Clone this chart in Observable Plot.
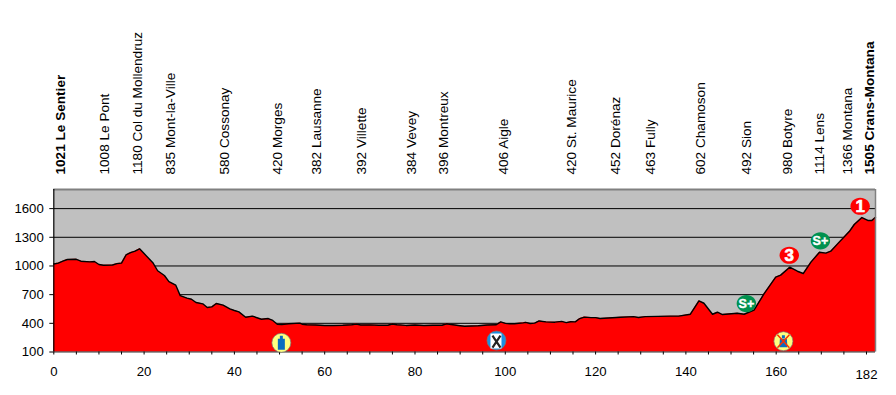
<!DOCTYPE html>
<html><head><meta charset="utf-8">
<style>html,body{margin:0;padding:0;background:#fff}svg{display:block}</style>
<script src="https://cdn.jsdelivr.net/npm/d3@7"></script>
<script src="https://cdn.jsdelivr.net/npm/@observablehq/plot@0.6"></script>
</head><body><script>
const km = [0,1,2,3,5,6,8,9,10,11,13,14,15,16,17,18,19,20,22,23,24.5,25.5,27,28,29.5,30.5,31.5,33,34,35,36,37.5,39,40,41,42.5,44,46,47.5,48.5,49.5,50.5,52,54.5,55,56,58,60,62,64,66,67,68,70,72,74,75,76,78,80,82,84,86,87,88,90,91,94,96,98,99,100,101,102,104,104.5,105.5,106.5,107.5,109,111,112.5,113.5,114.5,115.5,116.5,117.5,119,120,121,125.5,128.4,129.5,131,136.6,138.4,141,142.9,144,145.9,147,148.1,151.4,152.9,155.1,157.3,159.9,161,163,164.7,166,167.7,169.6,171,172.1,173.6,176.2,177.3,179,180.3,181.2,182];
const elevation = [1021,1030,1050,1068,1070,1050,1043,1047,1015,1008,1010,1025,1030,1115,1140,1155,1180,1130,1030,950,900,837,800,690,663,652,618,604,565,572,607,590,551,534,520,464,475,443,450,430,391,388,395,402,391,385,382,378,378,380,385,392,382,384,380,380,393,385,378,382,378,380,380,395,387,375,370,375,382,385,415,400,395,396,405,410,398,402,425,415,412,420,407,417,415,450,465,460,460,450,464,470,461,470,475,475,495,635,610,495,516,492,506,495,538,708,883,904,987,945,921,1040,1144,1134,1155,1231,1360,1434,1507,1476,1476,1510];
const profile = km.map((k,i)=>({km:k,elev:elevation[i]}));

const placeKm = [1.5,11.2,18.6,26,37.8,49.7,58.3,68.2,79.3,86.3,99.6,114.7,124.4,132.3,143.4,153.6,162.6,169.7,175.9,180.8];
const placeName = ["1021 Le Sentier","1008 Le Pont","1180 Col du Mollendruz","835 Mont-la-Ville","580 Cossonay","420 Morges","382 Lausanne","392 Villette","384 Vevey","396 Montreux","406 Aigle","420 St. Maurice","452 Dorénaz","463 Fully","602 Chamoson","492 Sion","980 Botyre","1114 Lens","1366 Montana","1505 Crans-Montana"];
const placeBold = [true,false,false,false,false,false,false,false,false,false,false,false,false,false,false,false,false,false,false,true];
const places = placeKm.map((k,i)=>({km:k,name:placeName[i],bold:placeBold[i]}));

const yTicks = [100,400,700,1000,1300,1600];
const xTicks = d3.range(0,181,5);

const badgeKm = [178.6,162.9,169.8,153.4];
const badgeElev = [1625,1112,1263,607];
const badgeText = ["1","3","S+","S+"];
const badgeFill = ["#ff0000","#ff0000","#00914f","#00914f"];
const badges = badgeKm.map((k,i)=>({km:k,elev:badgeElev[i],t:badgeText[i],fill:badgeFill[i]}));

const iconKm = [50.4,98.05,161.6];
const iconElev = [196,220,213];
const iconFill = ["#ffff80","#1c8fe0","#ffff80"];
const icons = iconKm.map((k,i)=>({km:k,elev:iconElev[i],fill:iconFill[i]}));

const font = "Liberation Sans, Arial, sans-serif";
const shape = draw => ({draw});
const ellipse = (rx,ry)=>shape(c=>{const k=0.5523;c.moveTo(rx,0);
  c.bezierCurveTo(rx,ry*k,rx*k,ry,0,ry);c.bezierCurveTo(-rx*k,ry,-rx,ry*k,-rx,0);
  c.bezierCurveTo(-rx,-ry*k,-rx*k,-ry,0,-ry);c.bezierCurveTo(rx*k,-ry,rx,-ry*k,rx,0);c.closePath();});
const bottle = shape(c=>{c.rect(-1.5,-7,3,3);c.rect(-3.5,-4,7,11);});
const bodyShape = shape(c=>{c.rect(-1.5,-6,3,3);c.moveTo(-3.5,-2.5);c.lineTo(3.5,-2.5);c.lineTo(4,6);c.lineTo(-4,6);c.closePath();});
const whitePanel = shape(c=>{c.rect(-6,-7,11,15);});
const cutlery = shape(c=>{c.moveTo(-4,-5);c.lineTo(4,7);c.moveTo(4,-5);c.lineTo(-4,7);});
const cross = shape(c=>{c.moveTo(-6,-6.5);c.lineTo(6,6.5);c.moveTo(6,-6.5);c.lineTo(-6,6.5);});

const placeLabel = (rows,weight)=>Plot.text(rows,{x:"km",frameAnchor:"top",dx:-5.5,dy:-15,text:"name",rotate:-90,textAnchor:"start",fontSize:13.6,fill:"#000",fontWeight:weight});

const chart = Plot.plot({
  width:896,height:395,
  marginLeft:53.3,marginRight:21,marginTop:189,marginBottom:43.5,
  style:{fontFamily:font,background:"#fff",overflow:"visible"},
  x:{domain:[0,182],axis:null},
  y:{domain:[100,1800],axis:null},
  marks:[
    Plot.frame({fill:"#c0c0c0",stroke:null}),
    Plot.ruleY(yTicks.slice(1),{stroke:"#000",strokeWidth:1}),
    Plot.areaY(profile,{x:"km",y1:()=>100,y2:"elev",fill:"#ff0000"}),
    Plot.line(profile,{x:"km",y:"elev",stroke:"#000",strokeWidth:1.4}),
    Plot.ruleY([1800],{stroke:"#808080",strokeWidth:2}),
    Plot.ruleX([182],{stroke:"#808080",strokeWidth:1.5}),
    Plot.ruleX([0],{stroke:"#000",strokeWidth:1.2}),
    Plot.ruleY([100],{stroke:"#333",strokeWidth:1.2}),
    Plot.axisX(xTicks,{tickSize:3,tickPadding:12,fontSize:13.2,stroke:"#000",fill:"#000",label:null,
      tickFormat:d=>d%20===0&&d<180?String(d):""}),
    Plot.text([180],{x:d=>d,y:()=>100,text:()=>"182",dy:23,fontSize:13.2,fill:"#000"}),
    Plot.axisY(yTicks,{tickSize:4,tickPadding:6,fontSize:13.2,stroke:"#000",fill:"#000",label:null,tickFormat:d=>String(d)}),
    placeLabel(places.filter(d=>!d.bold),"normal"),
    placeLabel(places.filter(d=>d.bold),"bold"),
    Plot.dot(badges,{x:"km",y:"elev",symbol:ellipse(9.7,8.6),fill:"fill",stroke:null}),
    Plot.text(badges.filter(d=>d.t!=="S+"),{x:"km",y:"elev",text:"t",fill:"#fff",stroke:"#fff",strokeWidth:0.6,fontWeight:"bold",fontSize:17}),
    Plot.text(badges.filter(d=>d.t==="S+"),{x:"km",y:"elev",text:"t",fill:"#fff",stroke:"#fff",strokeWidth:0.4,fontWeight:"bold",fontSize:12.5}),
    Plot.dot(icons,{x:"km",y:"elev",r:9.5,fill:"fill",stroke:"#777",strokeWidth:0.7}),
    Plot.dot(icons.slice(0,1),{x:"km",y:"elev",symbol:bottle,fill:"#0a6cc0",stroke:null}),
    Plot.dot(icons.slice(1,2),{x:"km",y:"elev",symbol:whitePanel,fill:"#fff",stroke:null}),
    Plot.dot(icons.slice(1,2),{x:"km",y:"elev",symbol:cutlery,fill:"none",stroke:"#222",strokeWidth:2.2}),
    Plot.dot(icons.slice(2,3),{x:"km",y:"elev",symbol:bodyShape,fill:"#0a6cc0",stroke:null}),
    Plot.dot(icons.slice(2,3),{x:"km",y:"elev",symbol:cross,fill:"none",stroke:"#ff3000",strokeWidth:1.5})
  ]
});
document.body.appendChild(chart);
</script></body></html>
